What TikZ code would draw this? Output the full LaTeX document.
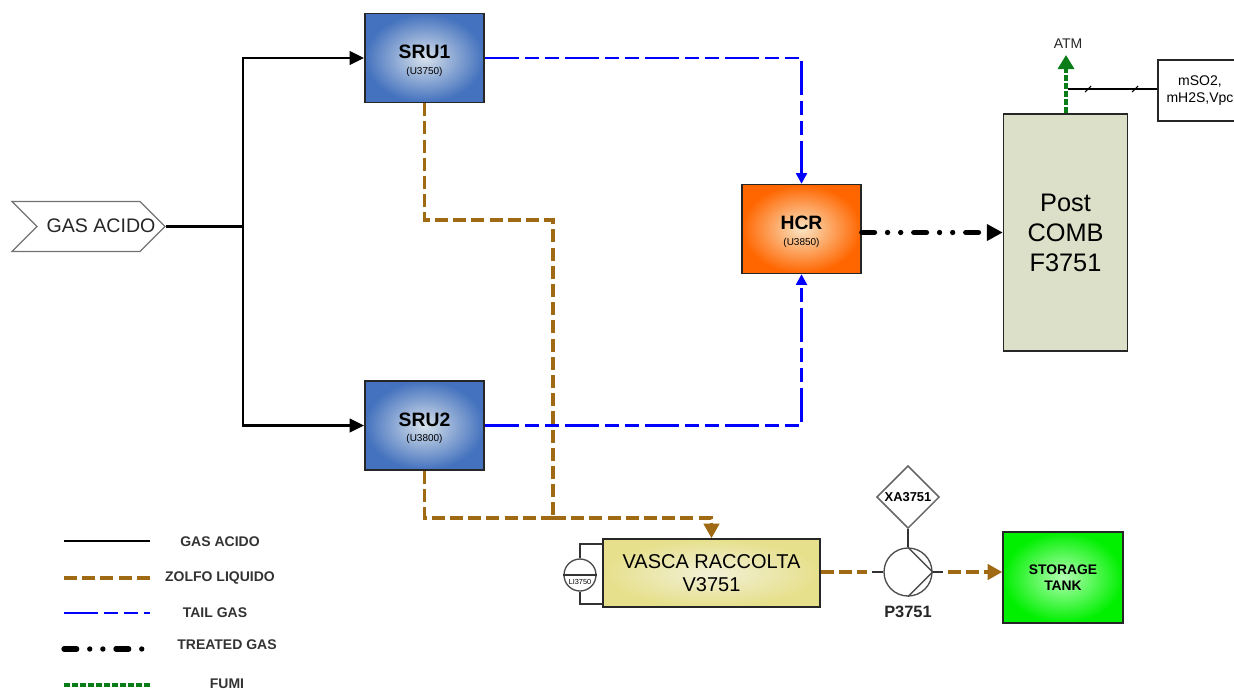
\documentclass[tikz,border=0pt]{standalone}
\usepackage{fontspec}
\setmainfont{Liberation Sans}
\usetikzlibrary{arrows.meta,shapes.geometric,shapes.symbols}
\definecolor{sulfur}{RGB}{160,105,20}
\definecolor{fumi}{RGB}{10,125,25}
\definecolor{srublue}{RGB}{68,114,190}
\definecolor{srucore}{RGB}{215,225,235}
\tikzset{
  unitbox/.style={draw=black!85,line width=1.2pt,rectangle,minimum width=89.25pt,minimum height=66.5pt,inner sep=0pt,align=center,shading=radial},
  plainbox/.style={draw=black!85,line width=1.1pt,rectangle,inner sep=0pt,align=center},
  gasline/.style={line width=2.2pt,black},
  sulfurline/.style={line width=2.6pt,sulfur,dash pattern=on 9.75pt off 3.9pt},
  tailline/.style={line width=2.2pt,blue,dash pattern=on 25.5pt off 4.5pt on 10.5pt off 4.5pt on 10.5pt off 4.5pt},
  treatedline/.style={line width=4pt,black,line cap=round,dash pattern=on 9.5pt off 9.83pt on 0pt off 9.83pt on 0pt off 9.83pt},
  fumiline/.style={line width=2.4pt,fumi,dash pattern=on 4.5pt off 1.5pt},
  legendtext/.style={font=\fontsize{10.5pt}{12pt}\selectfont\bfseries,text=black!80,inner sep=0pt},
  sulfurtip/.style={-{Triangle[length=11pt,width=11.5pt]}},
  unittitle/.style={font=\fontsize{14.5pt}{16pt}\selectfont\bfseries},
}
\newcommand{\unitlabel}[2]{\rule{0pt}{14.3pt}#1\\[-4.25pt]{\fontsize{7.5pt}{8pt}\selectfont\mdseries (#2)}}
\begin{document}
\begin{tikzpicture}[x=0.75pt,y=0.75pt,yscale=-1,xscale=1]
\useasboundingbox (0,0) rectangle (1234,689);

% Units
\node [unitbox,unittitle,inner color=srucore,outer color=srublue] (sru1) at (424.5,58) {\unitlabel{SRU1}{U3750}};
\node [unitbox,unittitle,inner color=srucore,outer color=srublue] (sru2) at (424.5,425.5) {\unitlabel{SRU2}{U3800}};
\node [unitbox,unittitle,inner color={rgb,255:red,250;green,228;blue,195},outer color={rgb,255:red,255;green,102;blue,0}] (hcr) at (801.5,229) {\unitlabel{HCR}{U3850}};
\node [plainbox,fill={rgb,255:red,221;green,224;blue,200},minimum width=93pt,minimum height=177.75pt,font=\fontsize{19pt}{22.5pt}\selectfont] (comb) at (1065.5,232.5) {Post\\COMB\\F3751};
\node [plainbox,shading=radial,inner color={rgb,255:red,242;green,240;blue,215},outer color={rgb,255:red,230;green,224;blue,140},minimum width=163pt,minimum height=51pt,font=\fontsize{15pt}{17.5pt}\selectfont] (vasca) at (711.5,573) {VASCA RACCOLTA\\V3751};
\node [plainbox,shading=radial,inner color=white!70!green,outer color={rgb,255:red,0;green,240;blue,0},minimum width=90pt,minimum height=68.25pt,font=\fontsize{10.4pt}{12pt}\selectfont\bfseries] (tank) at (1063,577.5) {STORAGE\\TANK};
\node [draw=black!85,line width=0.9pt,rectangle,minimum width=63pt,minimum height=45.75pt,inner sep=0pt,align=center,font=\fontsize{10.5pt}{12.75pt}\selectfont] (meter) at (1200,90.5) {mSO2,\\mH2S,Vpc};

% Gas inlet
\node [draw=black!55,line width=1pt,signal,signal to=east,signal from=west,signal pointer angle=90,minimum width=114.75pt,minimum height=37.5pt,inner sep=0pt] (inlet) at (88.5,226.5) {};
\node [inner sep=0pt,font=\fontsize{14.7pt}{16pt}\selectfont,text=black!85] (inletlabel) at (101,226) {GAS ACIDO};

% Instruments
\node [draw=black!70,line width=1pt,circle,minimum size=36pt,inner sep=0pt] (pump) at (908,572) {};
\node [draw=black!60,line width=1.1pt,diamond,aspect=1,minimum size=47pt,inner sep=0pt,font=\fontsize{9.7pt}{10pt}\selectfont\bfseries] (xa) at (908,497) {XA3751};
\node [draw=black!70,line width=1pt,circle,minimum size=24pt,inner sep=0pt] (lic) at (580,575) {};
\node [inner sep=0pt,font=\fontsize{5.5pt}{6pt}\selectfont] (lictext) at (580,581.5) {LI3750};
\node [inner sep=0pt,font=\fontsize{12.3pt}{14pt}\selectfont\bfseries,text=black!85] (p3751) at (908,612) {P3751};
\node [inner sep=0pt,font=\fontsize{10.5pt}{12pt}\selectfont,text=black!85] (atm) at (1068,44) {ATM};
\coordinate (trunk) at (243,226.5);
\coordinate (liquidbend) at (553,518);
\coordinate (stack) at (1066,55);

% Legend
\foreach \linename/\ypos/\labelx/\labely/\labeltext/\stylename in {gas/541/220/541.5/GAS ACIDO/gasline,zolfo/578/220/577.5/ZOLFO LIQUIDO/sulfurline,tail/613/215/612.5/TAIL GAS/tailline,treated/649/227/644.5/TREATED GAS/treatedline,smoke/685/227/683.5/FUMI/fumiline}{
  \coordinate (\linename a) at (64,\ypos);
  \coordinate (\linename b) at (150,\ypos);
  \draw [\stylename] (\linename a) -- (\linename b);
  \node [legendtext] (\linename label) at (\labelx,\labely) {\labeltext};
}

% Connection
\draw [gasline] (inlet.east) -- (trunk);
\draw [gasline,-{Triangle[length=11pt,width=10pt]}] (trunk) |- (sru1.west);
\draw [gasline,-{Triangle[length=11pt,width=10pt]}] (trunk) |- (sru2.west);
% Connection
\draw [sulfurline] (sru1.south) -- (424.5,220) -- (553,220) -- (liquidbend);
\draw [sulfurline] (sru2.south) |- (liquidbend);
\draw [sulfurline,sulfurtip] (liquidbend) -| (vasca.north);
\draw [sulfurline] (vasca.east |- pump) -- (867,572);
\draw [sulfurline,sulfurtip] (948,572) -- (tank.west |- pump);
% Connection
\draw [tailline,-{Triangle[length=8pt,width=8pt]}] (sru1.east) -| (hcr.north);
\draw [tailline,-{Triangle[length=8pt,width=8pt]}] (sru2.east) -| (hcr.south);
% Connection
\draw [treatedline,-{Triangle[length=12pt,width=12pt]}] (hcr.east |- comb) -- (comb.west);
% Connection
\draw [fumiline,-{Triangle[length=10.5pt,width=12pt]}] (comb.north -| stack) -- (stack);
\draw [line width=1pt] (1068,89) -- (meter.west |- 1068,89);
\draw [line width=0.8pt] (1085,92) -- (1091,86);
\draw [line width=0.8pt] (1132,92) -- (1138,86);
% Connection
\draw [line width=1pt,black!80] (lic.north) -- (580,544) -- (603,544);
\draw [line width=1pt,black!80] (lic.south) -- (580,604) -- (603,604);
\draw [line width=0.9pt,black!80] (lic.west) -- (lic.east);
% Connection
\draw [line width=1pt,black!80] (xa.south) -- (pump.north);
\draw [line width=1pt,black!70] (pump.north) -- (pump.east) -- (pump.south);
\draw [line width=1pt,black!80] (872,572) -- (pump.west);
\draw [line width=1pt,black!80] (pump.east) -- (943,572);

\end{tikzpicture}
\end{document}
